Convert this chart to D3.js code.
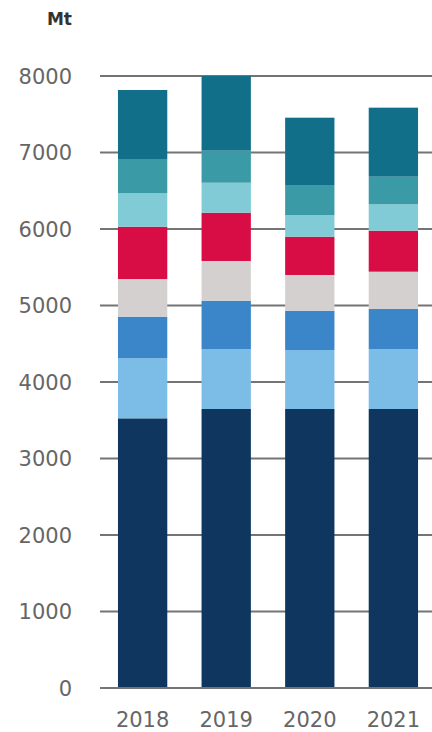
<!DOCTYPE html>
<html>
<head>
<meta charset="utf-8">
<script src="https://cdn.jsdelivr.net/npm/d3@7"></script>
<style>
  html, body { margin: 0; padding: 0; background: #fff; }
  svg { display: block; }
</style>
</head>
<body>
<svg id="chart" width="432" height="732"></svg>
<script>
// Years on the x axis
const years = ["2018", "2019", "2020", "2021"];

// Stacked segments, bottom to top (Mt)
const seriesKeys = ["seg1", "seg2", "seg3", "seg4", "seg5", "seg6", "seg7", "seg8"];
const seg1 = [3525, 3647, 3647, 3647];
const seg2 = [785, 784, 771, 784];
const seg3 = [544, 632, 514, 523];
const seg4 = [492, 519, 467, 488];
const seg5 = [684, 631, 500, 536];
const seg6 = [437, 392, 284, 345];
const seg7 = [448, 419, 392, 361];
const seg8 = [902, 976, 880, 902];

const seriesColors = ["#0e365e", "#7cbde8", "#3a86c8", "#d4d0d0", "#d80d45", "#80cbd5", "#3a9ba7", "#126f89"];

const yTicks = [0, 1000, 2000, 3000, 4000, 5000, 6000, 7000, 8000];
const unitLabel = "Mt";

// Build rows for d3.stack
const segs = [seg1, seg2, seg3, seg4, seg5, seg6, seg7, seg8];
const rows = years.map((yr, i) => {
  const r = { year: yr };
  seriesKeys.forEach((k, j) => { r[k] = segs[j][i]; });
  return r;
});
const stacked = d3.stack().keys(seriesKeys)(rows);

const svg = d3.select("#chart");
const font = "'DejaVu Sans', Verdana, sans-serif";

const x = d3.scaleBand().domain(years).range([100, 436]).paddingInner(0.41).paddingOuter(0.215);
const y = d3.scaleLinear().domain([0, 8000]).range([688, 76]);

// Horizontal gridlines
svg.append("g")
  .selectAll("line")
  .data(yTicks)
  .join("line")
  .attr("x1", 100)
  .attr("x2", 432)
  .attr("y1", d => y(d))
  .attr("y2", d => y(d))
  .attr("stroke", "#747474")
  .attr("stroke-width", 2);

// Y tick labels
svg.append("g")
  .selectAll("text")
  .data(yTicks)
  .join("text")
  .attr("x", 72)
  .attr("y", d => y(d))
  .attr("dy", "0.36em")
  .attr("text-anchor", "end")
  .attr("font-family", font)
  .attr("font-size", 21)
  .attr("fill", "#666")
  .text(d => d);

// Unit label
svg.append("text")
  .attr("x", 72)
  .attr("y", 25)
  .attr("text-anchor", "end")
  .attr("font-family", font)
  .attr("font-weight", "bold")
  .attr("font-size", 17)
  .attr("fill", "#333")
  .text(unitLabel);

// Stacked bars
svg.append("g")
  .selectAll("g")
  .data(stacked)
  .join("g")
  .attr("fill", (d, i) => seriesColors[i])
  .selectAll("rect")
  .data(d => d)
  .join("rect")
  .attr("x", d => x(d.data.year))
  .attr("width", x.bandwidth())
  .attr("y", d => y(d[1]))
  .attr("height", d => y(d[0]) - y(d[1]));

// Baseline redrawn above bars
svg.append("line")
  .attr("x1", 100).attr("x2", 432)
  .attr("y1", y(0)).attr("y2", y(0))
  .attr("stroke", "#747474")
  .attr("stroke-width", 2);

// X axis labels
svg.append("g")
  .selectAll("text")
  .data(years)
  .join("text")
  .attr("x", d => x(d) + x.bandwidth() / 2)
  .attr("y", 727)
  .attr("text-anchor", "middle")
  .attr("font-family", font)
  .attr("font-size", 21)
  .attr("fill", "#666")
  .text(d => d);
</script>
</body>
</html>
